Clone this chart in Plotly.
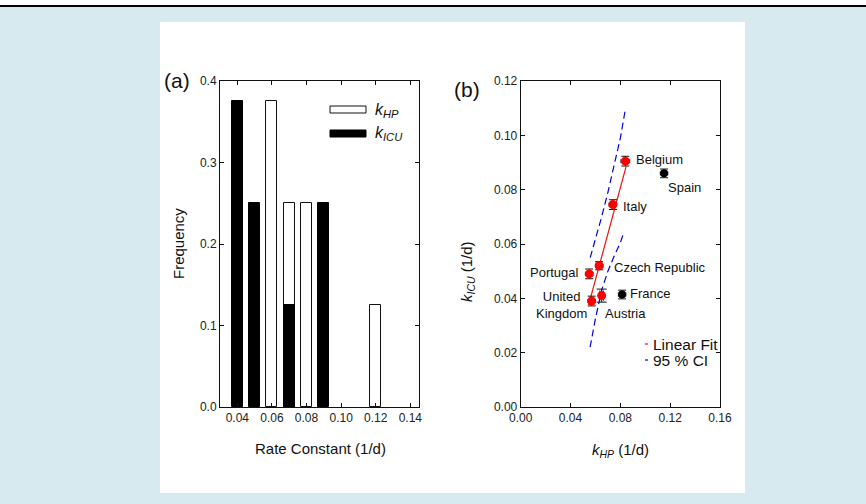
import plotly.graph_objects as go

W, H = 866, 504
def px(x): return x / W
def py(y): return 1 - y / H

# ---------------- data ----------------
# panel (a): histogram of rate constants
hp_bins = [0.06, 0.07, 0.08, 0.12]
hp_freq = [0.375, 0.25, 0.25, 0.125]
icu_bins = [0.04, 0.05, 0.07, 0.09]
icu_freq = [0.375, 0.25, 0.125, 0.25]
a_xticks = [0.04, 0.06, 0.08, 0.10, 0.12, 0.14]
a_yticks = [0.0, 0.1, 0.2, 0.3, 0.4]

# panel (b): kICU vs kHP per country
countries_fit = ["Belgium", "Italy", "Czech Republic", "Portugal", "United Kingdom"]
khp_fit = [0.084, 0.074, 0.063, 0.055, 0.057]
kicu_fit = [0.0905, 0.0745, 0.052, 0.049, 0.039]
khp_err_fit = [0.0035, 0.0030, 0.0030, 0.0030, 0.0030]
kicu_err_fit = [0.0018, 0.0018, 0.0015, 0.0018, 0.0018]

austria_khp = [0.065]
austria_kicu = [0.041]
austria_khp_err = [0.0015]
austria_kicu_err = [0.0024]

countries_out = ["Spain", "France"]
khp_out = [0.1151, 0.0814]
kicu_out = [0.0860, 0.0414]
khp_err_out = [0.0030, 0.0030]
kicu_err_out = [0.0016, 0.0016]

fit_x = [0.0545, 0.0846]
fit_y = [0.0375, 0.0885]
ci_up_x = [0.0558, 0.060, 0.065, 0.070, 0.075, 0.080, 0.0840]
ci_up_y = [0.055, 0.0615, 0.070, 0.079, 0.089, 0.099, 0.1095]
ci_lo_x = [0.0557, 0.060, 0.065, 0.070, 0.075, 0.080, 0.0828]
ci_lo_y = [0.022, 0.0325, 0.043, 0.050, 0.0555, 0.0605, 0.0642]

b_xticks = [0.00, 0.04, 0.08, 0.12, 0.16]
b_yticks = [0.00, 0.02, 0.04, 0.06, 0.08, 0.10, 0.12]

# country label positions (data coords) and anchors
label_text = ["Belgium", "Spain", "Italy", "Czech Republic", "Portugal",
              "United<br>Kingdom", "Austria", "France"]
label_x = [0.0910, 0.1167, 0.0806, 0.0731, 0.0482, 0.0328, 0.0840, 0.0864]
label_y = [0.0912, 0.0807, 0.0737, 0.0514, 0.0494, 0.0376, 0.0344, 0.0416]
label_anchor = ["left", "left", "left", "left", "right", "center", "center", "left"]

FONT = "Liberation Sans, Arial, sans-serif"

fig = go.Figure()

# bars (white first, black overlaid)
fig.add_trace(go.Bar(x=hp_bins, y=hp_freq, width=0.0064,
                     marker=dict(color="white", line=dict(color="#111", width=1)),
                     xaxis="x", yaxis="y", showlegend=False))
fig.add_trace(go.Bar(x=icu_bins, y=icu_freq, width=0.0064,
                     marker=dict(color="black", line=dict(color="black", width=1)),
                     xaxis="x", yaxis="y", showlegend=False))

# CI and fit
fig.add_trace(go.Scatter(x=ci_up_x, y=ci_up_y, mode="lines",
                         line=dict(color="#0000dd", width=1.2, dash="7px,4px"),
                         xaxis="x2", yaxis="y2", showlegend=False))
fig.add_trace(go.Scatter(x=ci_lo_x, y=ci_lo_y, mode="lines",
                         line=dict(color="#0000dd", width=1.2, dash="7px,4px"),
                         xaxis="x2", yaxis="y2", showlegend=False))
fig.add_trace(go.Scatter(x=fit_x, y=fit_y, mode="lines",
                         line=dict(color="#ee1111", width=1.2),
                         xaxis="x2", yaxis="y2", showlegend=False))

# points
fig.add_trace(go.Scatter(x=khp_fit, y=kicu_fit, mode="markers", text=countries_fit,
                         marker=dict(color="#ff0000", size=9, symbol="circle"),
                         error_x=dict(type="data", array=khp_err_fit, color="#111", thickness=1, width=2),
                         error_y=dict(type="data", array=kicu_err_fit, color="#111", thickness=1, width=4),
                         xaxis="x2", yaxis="y2", showlegend=False))
fig.add_trace(go.Scatter(x=austria_khp, y=austria_kicu, mode="markers", text=["Austria"],
                         marker=dict(color="#ff0000", size=9, symbol="circle"),
                         error_x=dict(type="data", array=austria_khp_err, color="#111", thickness=1, width=5),
                         error_y=dict(type="data", array=austria_kicu_err, color="#111", thickness=1, width=5),
                         xaxis="x2", yaxis="y2", showlegend=False))
fig.add_trace(go.Scatter(x=khp_out, y=kicu_out, mode="markers", text=countries_out,
                         marker=dict(color="black", size=8, symbol="circle"),
                         error_x=dict(type="data", array=khp_err_out, color="#111", thickness=1, width=2),
                         error_y=dict(type="data", array=kicu_err_out, color="#111", thickness=1, width=4),
                         xaxis="x2", yaxis="y2", showlegend=False))

axcommon = dict(showline=True, linecolor="#111", linewidth=1, mirror="ticks",
                ticks="inside", ticklen=4, tickcolor="#111", showgrid=False,
                zeroline=False, automargin=False,
                tickfont=dict(family=FONT, size=12, color="#222"))

fig.update_layout(
    width=W, height=H, autosize=False,
    margin=dict(l=0, r=0, t=0, b=0, pad=0, autoexpand=False),
    paper_bgcolor="rgb(214,234,240)", plot_bgcolor="white",
    barmode="overlay", bargap=0,
    font=dict(family=FONT, color="#111", size=13),
    xaxis=dict(domain=[px(220), px(419)], range=[0.03, 0.145], tickvals=a_xticks,
               tickformat=".2f", anchor="y", **axcommon),
    yaxis=dict(domain=[py(407), py(81)], range=[0, 0.4], tickvals=a_yticks,
               tickformat=".1f", anchor="x", **axcommon),
    xaxis2=dict(domain=[px(520.7), px(720)], range=[0, 0.16], tickvals=b_xticks,
                tickformat=".2f", anchor="y2", **axcommon),
    yaxis2=dict(domain=[py(407), py(81)], range=[0, 0.12], tickvals=b_yticks,
                tickformat=".2f", anchor="x2", **axcommon),
)

shapes = [
    # white card
    dict(type="rect", xref="paper", yref="paper", x0=px(160), x1=px(745), y0=py(493), y1=py(22),
         fillcolor="white", line=dict(width=0), layer="below"),
    # top white strip and black rule
    dict(type="rect", xref="paper", yref="paper", x0=0, x1=1, y0=py(5), y1=1,
         fillcolor="white", line=dict(width=0), layer="below"),
    dict(type="line", xref="paper", yref="paper", x0=0, x1=1, y0=py(6), y1=py(6),
         line=dict(color="black", width=2)),
    # legend (a)
    dict(type="rect", xref="paper", yref="paper", x0=px(330), x1=px(366), y0=py(113), y1=py(106),
         fillcolor="white", line=dict(color="#111", width=1)),
    dict(type="rect", xref="paper", yref="paper", x0=px(330), x1=px(366), y0=py(137), y1=py(130),
         fillcolor="black", line=dict(color="black", width=1)),
    # legend (b)
    dict(type="line", xref="paper", yref="paper", x0=px(645), x1=px(648), y0=py(344), y1=py(344),
         line=dict(color="#ee1111", width=1.2)),
    dict(type="line", xref="paper", yref="paper", x0=px(645), x1=px(648), y0=py(360), y1=py(360),
         line=dict(color="#0000dd", width=1.2)),
]
fig.update_layout(shapes=shapes)

ann = [
    dict(text="(a)", x=px(162), y=py(80), xanchor="left", yanchor="middle", font=dict(size=21)),
    dict(text="(b)", x=px(452), y=py(89), xanchor="left", yanchor="middle", font=dict(size=21)),
    dict(text="Frequency", x=px(178), y=py(244), textangle=-90, xanchor="center", yanchor="middle",
         font=dict(size=15)),
    dict(text="Rate Constant (1/d)", x=px(320), y=py(448), xanchor="center", yanchor="middle",
         font=dict(size=15)),
    dict(text="<i>k</i><sub><i>ICU</i></sub> (1/d)", x=px(467), y=py(272), textangle=-90,
         xanchor="center", yanchor="middle", font=dict(size=15)),
    dict(text="<i>k</i><sub><i>HP</i></sub> (1/d)", x=px(620), y=py(450), xanchor="center",
         yanchor="middle", font=dict(size=15)),
    dict(text="<i>k</i><sub><i>HP</i></sub>", x=px(373), y=py(110), xanchor="left", yanchor="middle",
         font=dict(size=16)),
    dict(text="<i>k</i><sub><i>ICU</i></sub>", x=px(373), y=py(134), xanchor="left", yanchor="middle",
         font=dict(size=16)),
    dict(text="Linear Fit", x=px(651), y=py(344), xanchor="left", yanchor="middle", font=dict(size=15.5)),
    dict(text="95 % CI", x=px(651), y=py(360), xanchor="left", yanchor="middle", font=dict(size=15.5)),
]
for a in ann:
    a.update(xref="paper", yref="paper", showarrow=False)
    a["font"] = dict(family=FONT, color="#111", size=a["font"]["size"])
for t, x, y, anc in zip(label_text, label_x, label_y, label_anchor):
    ann.append(dict(text=t, x=x, y=y, xref="x2", yref="y2", xanchor=anc, yanchor="middle",
                    showarrow=False, align="center", font=dict(family=FONT, color="#111", size=13)))
fig.update_layout(annotations=ann)

fig.write_html("out.html",
               post_script="document.body.style.margin='0';document.body.style.overflow='hidden';")
